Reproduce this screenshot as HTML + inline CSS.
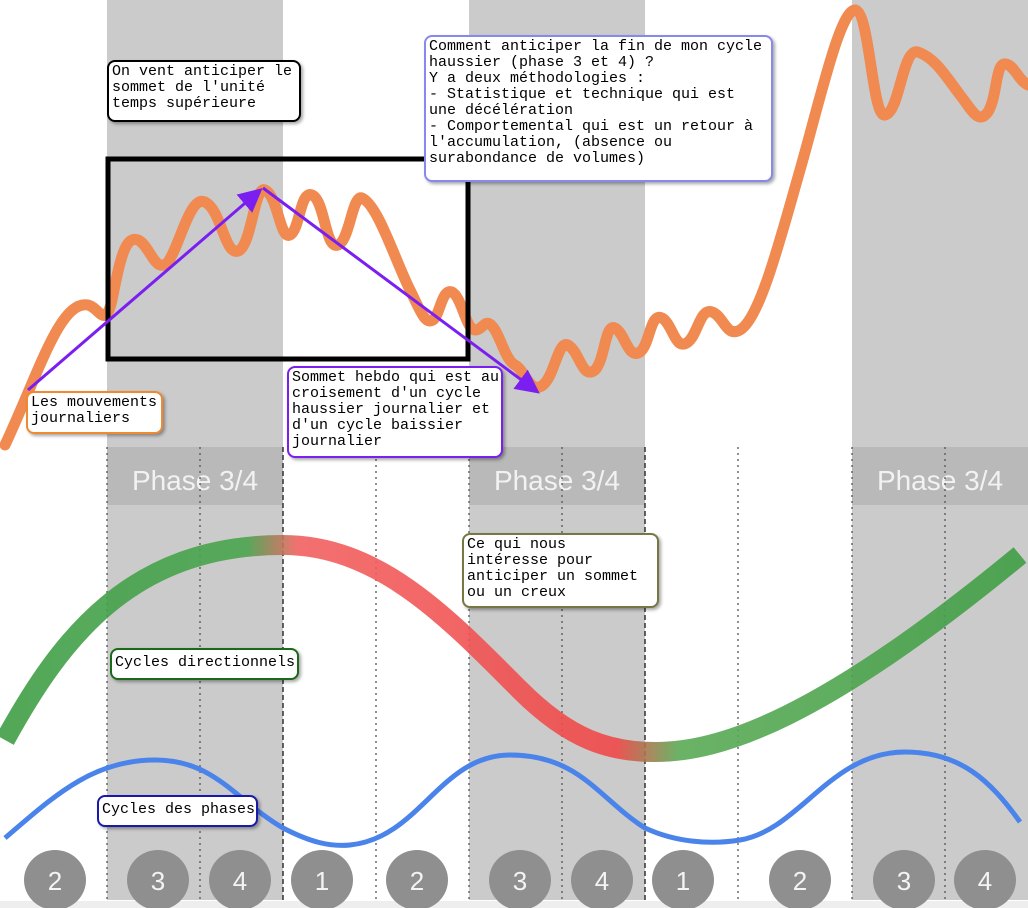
<!DOCTYPE html>
<html><head><meta charset="utf-8"><style>
body{margin:0;width:1028px;height:908px;overflow:hidden;background:#fff;position:relative;font-family:"Liberation Mono","Noto Sans CJK TC",monospace;}
.b{position:absolute;background:#fff;border:2px solid #000;border-radius:8px;font-size:15px;line-height:16px;padding:2px 3px;box-sizing:border-box;white-space:pre;box-shadow:2px 2px 3px rgba(0,0,0,.35);color:#000;font-family:"Liberation Mono",monospace;letter-spacing:0px}
</style></head><body>
<svg width="1028" height="908" style="position:absolute;left:0;top:0">
<defs>
<linearGradient id="g" x1="0" x2="1028" y1="0" y2="0" gradientUnits="userSpaceOnUse">
<stop offset="0" stop-color="#3f9e45"/><stop offset="0.24" stop-color="#4aa44e"/><stop offset="0.29" stop-color="#f26060"/><stop offset="0.6" stop-color="#f04848"/><stop offset="0.66" stop-color="#5aaa55"/><stop offset="1" stop-color="#3f9e45"/>
</linearGradient>
<marker id="ah" markerWidth="8" markerHeight="8" refX="6" refY="4" orient="auto" markerUnits="strokeWidth"><path d="M0,0 L8,4 L0,8 z" fill="#7a1ff0"/></marker>
</defs>
<g fill="#cbcbcb"><rect x="107" y="0" width="176" height="900"/><rect x="469" y="0" width="176" height="900"/><rect x="852" y="0" width="176" height="900"/></g>
<g fill="#b9b9b9"><rect x="107" y="447" width="176" height="58"/><rect x="469" y="447" width="176" height="58"/><rect x="852" y="447" width="176" height="58"/></g>
<g font-family="Liberation Sans,sans-serif" font-size="28" fill="#f2f2f2" text-anchor="middle"><text x="195" y="490">Phase 3/4</text><text x="557" y="490">Phase 3/4</text><text x="940" y="490">Phase 3/4</text></g>
<g stroke="#555" stroke-width="1.3" stroke-dasharray="2,4">
<line x1="107" y1="447" x2="107" y2="900"/><line x1="200" y1="447" x2="200" y2="900"/><line x1="376" y1="447" x2="376" y2="900"/><line x1="469" y1="447" x2="469" y2="900"/><line x1="562" y1="447" x2="562" y2="900"/><line x1="738" y1="447" x2="738" y2="900"/><line x1="852" y1="447" x2="852" y2="900"/><line x1="945" y1="447" x2="945" y2="900"/></g>
<g stroke="#333" stroke-width="1.5" stroke-dasharray="5,3"><line x1="283" y1="447" x2="283" y2="900"/><line x1="645" y1="447" x2="645" y2="900"/></g>
<rect x="0" y="901" width="1028" height="7" fill="#eee"/>
<path d="M5,445 C40,370 60,300 88,305 C100,308 105,330 112,300 C120,260 125,235 138,240 C150,245 155,275 168,262 C180,245 190,195 205,202 C222,210 225,260 240,250 C252,240 255,185 265,190 C278,196 280,240 290,235 C300,230 300,190 312,195 C325,200 325,250 338,245 C350,240 352,195 362,198 C378,205 395,260 410,290 C420,310 425,325 433,320 C440,315 442,288 452,292 C462,297 466,330 475,330 C483,330 485,318 492,326 C500,334 505,360 515,365 C525,370 530,395 543,385 C555,375 558,340 568,345 C580,352 582,380 595,370 C605,360 605,323 615,328 C625,333 628,360 640,352 C650,345 650,312 662,318 C673,324 675,352 688,342 C698,334 700,308 712,312 C724,316 726,338 740,330 C760,318 780,240 800,170 C820,100 840,10 855,10 C870,12 872,118 885,115 C900,112 902,48 918,52 C935,58 945,75 960,95 C972,110 978,125 988,112 C998,95 995,62 1006,64 C1015,66 1018,80 1028,85" fill="none" stroke="#f08a50" stroke-width="11" stroke-linejoin="round" stroke-linecap="round"/>
<rect x="108" y="159" width="360" height="200" fill="none" stroke="#000" stroke-width="5"/>
<line x1="28" y1="390" x2="258" y2="192" stroke="#7a1ff0" stroke-width="3" marker-end="url(#ah)"/>
<line x1="263" y1="188" x2="535" y2="390" stroke="#7a1ff0" stroke-width="3" marker-end="url(#ah)"/>
<path d="M5,740 C60,640 130,545 283,545 C380,545 450,620 520,690 C570,740 610,752 655,752 C720,752 820,720 1020,555" fill="none" stroke="url(#g)" stroke-width="20" opacity="0.9"/>
<path d="M5,838 C50,800 90,760 155,760 C215,760 235,800 283,828 C310,842 330,847 350,845 C420,838 440,755 510,755 C580,755 600,800 645,828 C675,842 710,845 740,840 C800,830 830,752 905,752 C960,752 990,780 1020,822" fill="none" stroke="#4a84ea" stroke-width="5"/>
<g fill="#8f8f8f"><ellipse cx="55" cy="880" rx="31" ry="30"/><ellipse cx="158" cy="880" rx="31" ry="30"/><ellipse cx="240" cy="880" rx="31" ry="30"/><ellipse cx="322" cy="880" rx="31" ry="30"/><ellipse cx="417" cy="880" rx="31" ry="30"/><ellipse cx="520" cy="880" rx="31" ry="30"/><ellipse cx="602" cy="880" rx="31" ry="30"/><ellipse cx="683" cy="880" rx="31" ry="30"/><ellipse cx="800" cy="880" rx="31" ry="30"/><ellipse cx="904" cy="880" rx="31" ry="30"/><ellipse cx="985" cy="880" rx="31" ry="30"/></g>
<g font-family="Liberation Sans,sans-serif" font-size="26" fill="#f4f4f4" text-anchor="middle"><text x="55" y="890">2</text><text x="158" y="890">3</text><text x="240" y="890">4</text><text x="322" y="890">1</text><text x="417" y="890">2</text><text x="520" y="890">3</text><text x="602" y="890">4</text><text x="683" y="890">1</text><text x="800" y="890">2</text><text x="904" y="890">3</text><text x="985" y="890">4</text></g>
</svg>
<div class="b" style="left:107px;top:60px;width:194px;height:62px">On vent anticiper le
sommet de l'unité
temps supérieure</div>
<div class="b" style="left:424px;top:35px;width:349px;height:147px;border-color:#8888ee">Comment anticiper la fin de mon cycle
haussier (phase 3 et 4) ?
Y a deux méthodologies :
- Statistique et technique qui est
une décélération
- Comportemental qui est un retour à
l'accumulation, (absence ou
surabondance de volumes)</div>
<div class="b" style="left:26px;top:391px;width:137px;height:43px;border-color:#f08a30">Les mouvements
journaliers</div>
<div class="b" style="left:287px;top:366px;width:216px;height:92px;border-color:#7a1ff0">Sommet hebdo qui est au
croisement d'un cycle
haussier journalier et
d'un cycle baissier
journalier</div>
<div class="b" style="left:462px;top:533px;width:197px;height:75px;border-color:#777744">Ce qui nous
intéresse pour
anticiper un sommet
ou un creux</div>
<div class="b" style="left:110px;top:648px;width:189px;height:32px;border-color:#1a6a1a;padding-top:5px">Cycles directionnels</div>
<div class="b" style="left:97px;top:795px;width:161px;height:32px;border-color:#1a1aaa;padding-top:5px">Cycles des phases</div>
</body></html>
